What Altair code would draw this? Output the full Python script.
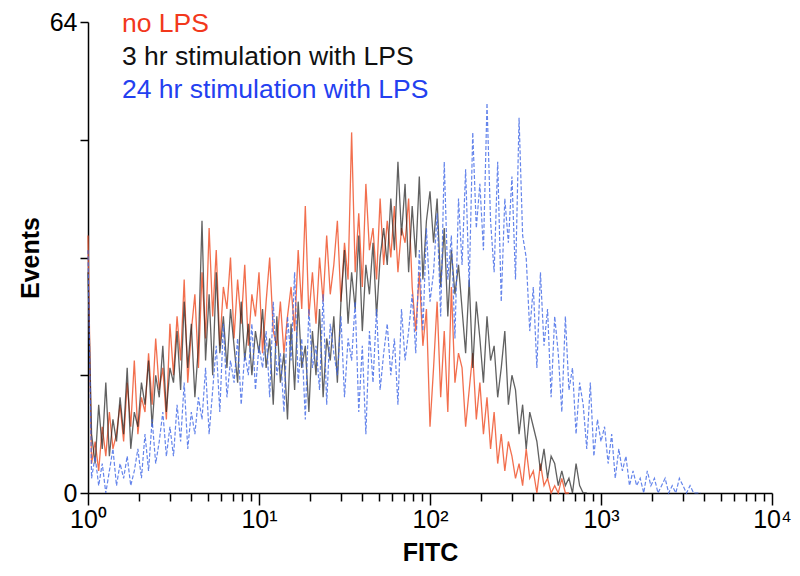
import altair as alt
import pandas as pd

# Histogram counts per channel (48 channels per decade, first channel at FITC = 10^0)
no_lps = [35,
          4, 7, 3, 9, 5, 11, 6, 8,
          12, 7, 15, 9, 18, 8, 13,
          11, 19, 12, 21, 14, 17, 10, 23,
          16, 24, 18, 29, 15, 22, 27, 17,
          30, 21, 36, 24, 33, 20, 28,
          25, 32, 21, 29, 23, 31, 20, 27, 24,
          30, 19, 26, 32, 22,
          20, 26, 19, 24,
          28, 22, 33, 25, 39, 24, 30, 23, 32, 26,
          35, 27, 31, 37, 26, 34, 29, 49,
          30, 38, 28, 42, 33, 36, 29, 40, 31, 37,
          32, 39, 30, 36, 34, 40,
          28, 22, 30, 20, 25,
          9, 17,
          26, 13, 22, 11, 28, 15, 19,
          17, 9, 14, 19, 10, 15, 8, 13,
          6, 11, 4, 8, 3, 7,
          5, 2, 4, 1, 6, 2, 3, 0, 4, 1, 2, 0,
          1, 0, 2, 0, 0]

stim_3hr = [30,
            8, 4, 12, 6, 15, 5, 10, 7,
            13, 8, 17, 6, 11, 9, 15,
            12, 18, 9, 16, 13, 20, 11, 17,
            15, 22, 14, 26, 17, 23, 13, 20,
            37, 18, 27, 16, 30, 19, 24,
            17, 25, 20, 15, 26, 18, 23, 16, 22, 19, 25, 17,
            21, 12, 24, 15, 19, 10, 23, 14, 26, 17, 20, 11, 22, 16, 25, 13, 21, 18, 24, 15,
            26, 33, 23, 30, 25, 35, 22, 31, 27, 34, 24, 32,
            36, 31, 40, 33, 45, 35, 42, 30,
            39, 32, 43, 29, 37, 41, 34,
            40, 28, 36, 24, 33, 27, 31,
            25, 19, 29, 17, 26, 21, 15, 24, 18,
            20, 13, 17, 22, 12, 16,
            14, 8, 12, 6, 11, 9,
            7, 3, 6, 2, 5, 4, 1,
            3, 1, 2, 0, 4, 1, 0, 0]

stim_24hr = [33,
             2, 5, 1, 4, 0, 3, 6, 1, 4, 2, 5, 1, 3,
             6, 2, 8, 3, 10, 4, 7, 11, 5,
             9, 5, 12, 7, 15, 6, 11, 8, 13,
             10, 17, 8, 14, 20, 11, 23, 13, 18, 15,
             21, 12, 19, 16, 23, 14, 20, 17,
             22, 13, 26, 16, 19, 11, 24, 18, 30, 15, 21, 10, 25, 17, 20, 14, 27, 12, 23, 19,
             16, 24, 13, 21, 18, 26, 11, 20, 8, 22, 15, 25, 14, 19,
             23, 16, 21, 12, 25, 18, 22,
             27, 19, 33, 22, 36, 26,
             30, 38, 24, 45, 29, 35, 21,
             40, 31, 44, 28, 49, 36, 42, 33, 53,
             37, 30, 45, 26, 40, 34, 43, 29, 51, 35,
             32, 22, 28, 17, 30, 20, 25, 13, 24,
             19, 11, 24, 14, 17, 8, 15,
             12, 6, 15, 5, 10, 7, 9,
             4, 8, 2, 6, 3, 5, 1,
             3, 1, 2, 0, 3, 1, 2, 0,
             1, 2, 0, 1, 0, 2, 1, 0, 1, 0, 0, 0]

series_names = ["no LPS", "3 hr stimulation with LPS", "24 hr stimulation with LPS"]
line_colors = ["#F0562F", "#1E1E1E", "#3F66E6"]
text_colors = ["#F2381C", "#111111", "#2340F0"]
channels_per_decade = 48

x_ticks = [1, 2, 3, 4, 5, 6, 7, 8, 9,
           10, 20, 30, 40, 50, 60, 70, 80, 90,
           100, 200, 300, 400, 500, 600, 700, 800, 900,
           1000, 2000, 3000, 4000, 5000, 6000, 7000, 8000, 9000, 10000]
y_ticks = [0, 16, 32, 48, 64]

FONT = "Liberation Sans"


def frame(vals, name):
    return pd.DataFrame({
        "FITC": [10 ** (i / channels_per_decade) for i in range(len(vals))],
        "Events": vals,
        "series": name,
    })


decade_test = ("datum.value == 1 || datum.value == 10 || datum.value == 100 || "
               "datum.value == 1000 || datum.value == 10000")

x_enc = alt.X(
    "FITC:Q",
    scale=alt.Scale(type="log", domain=[1, 10000], nice=False),
    axis=alt.Axis(
        title="FITC",
        values=x_ticks,
        labelExpr=("datum.value == 1 ? '10⁰' : datum.value == 10 ? '10¹' : "
                   "datum.value == 100 ? '10²' : datum.value == 1000 ? '10³' : "
                   "datum.value == 10000 ? '10⁴' : ''"),
        tickSize={"condition": {"test": decade_test, "value": 12}, "value": 8},
        grid=False,
        labelOverlap=False,
        labelFlush=False,
        labelFont=FONT,
        labelFontSize=25,
        labelColor="black",
        labelPadding=2,
        tickColor="black",
        tickWidth=1.5,
        domainColor="black",
        domainWidth=1.5,
        titleFont=FONT,
        titleFontSize=25,
        titleFontWeight="bold",
        titleColor="black",
        titlePadding=8,
    ),
)

y_enc = alt.Y(
    "Events:Q",
    scale=alt.Scale(domain=[0, 64], nice=False),
    axis=alt.Axis(
        title="Events",
        values=y_ticks,
        labelExpr="datum.value == 0 || datum.value == 64 ? datum.label : ''",
        tickSize=8,
        grid=False,
        labelFont=FONT,
        labelFontSize=25,
        labelColor="black",
        labelPadding=3,
        tickColor="black",
        tickWidth=1.5,
        domainColor="black",
        domainWidth=1.5,
        titleFont=FONT,
        titleFontSize=25,
        titleFontWeight="bold",
        titleColor="black",
        titlePadding=6,
    ),
)

red = alt.Chart(frame(no_lps, series_names[0])).mark_line(
    color=line_colors[0], strokeWidth=1.3, opacity=0.85
).encode(x=x_enc, y=y_enc)

black = alt.Chart(frame(stim_3hr, series_names[1])).mark_line(
    color=line_colors[1], strokeWidth=1.3, opacity=0.7
).encode(x=x_enc, y=y_enc)

blue = alt.Chart(frame(stim_24hr, series_names[2])).mark_line(
    color=line_colors[2], strokeWidth=1.2, opacity=0.8, strokeDash=[4, 2]
).encode(x=x_enc, y=y_enc)

legend_layers = []
for k, (name, col) in enumerate(zip(series_names, text_colors)):
    legend_layers.append(
        alt.Chart(pd.DataFrame({"t": [name]})).mark_text(
            align="left", baseline="alphabetic", font=FONT, fontSize=26.5, color=col
        ).encode(text="t:N", x=alt.value(34), y=alt.value(10 + 33 * k))
    )

chart = alt.layer(red, black, blue, *legend_layers).properties(
    width=684,
    height=471,
    autosize=alt.AutoSizeParams(type="none"),
    padding={"left": 80, "top": 14, "right": 20, "bottom": 75},
    background="white",
).configure_view(stroke=None)

chart.save("out.html", embed_options={"renderer": "svg", "actions": False})
